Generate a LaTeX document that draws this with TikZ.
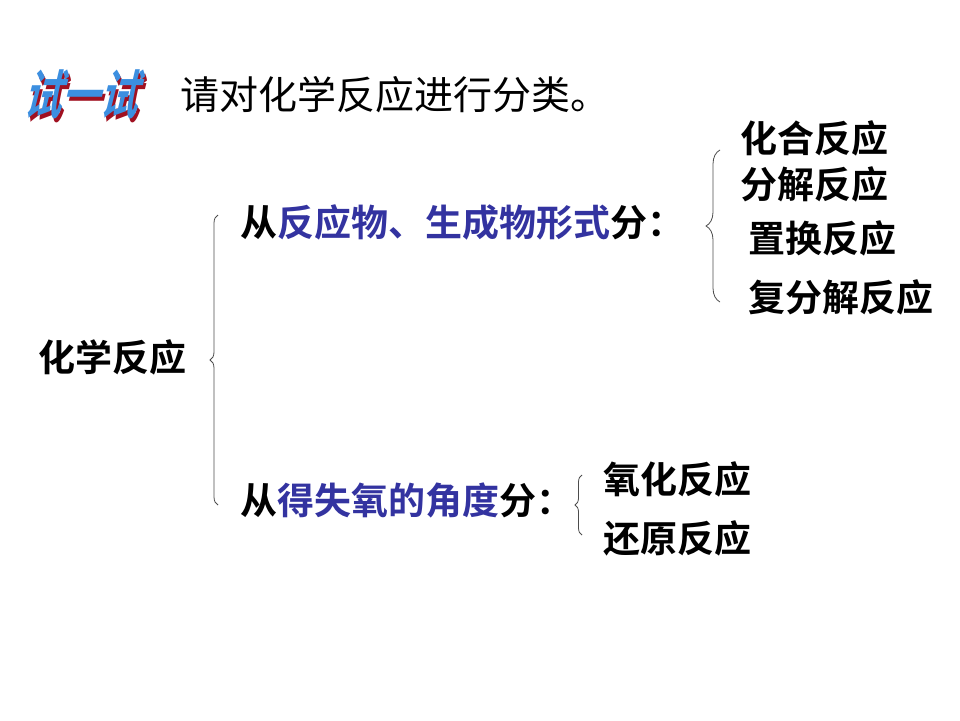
\documentclass[tikz,border=0pt]{standalone}
\usepackage{fontspec}
\newfontfamily\cjk{Noto Sans CJK SC}
\newfontfamily\cjkb{Noto Sans CJK SC Bold}
\usetikzlibrary{decorations.pathreplacing}
\definecolor{cblue}{HTML}{3333A0}
\definecolor{tblue}{HTML}{3C8FE0}
\definecolor{tred}{HTML}{A01020}
\tikzset{x=1pt,y=-1pt,
 bt/.style={anchor=west,inner sep=0pt,font=\cjkb\fontsize{37}{37}\selectfont},
 br/.style={draw=black!70,line width=0.8pt,decorate,decoration={brace,amplitude=#1}}}
\begin{document}
\begin{tikzpicture}
\useasboundingbox (0,0) rectangle (960,720);
\node[anchor=west,inner sep=0pt,font=\cjkb\fontsize{38}{38}\selectfont,xslant=0.25,yscale=1.4] (t) at (28,96) {\rlap{\hspace{3pt}\raisebox{-3pt}{\textcolor{tred}{试一试}}}\textcolor{tblue}{试一试}};
\node[anchor=west,inner sep=0pt,font=\cjk\fontsize{39}{39}\selectfont] (title) at (180,95) {请对化学反应进行分类。};
\node[bt] (root) at (38,357) {化学反应};
\node[bt] (a) at (240,222) {从\textcolor{cblue}{反应物、生成物形式}分：};
\node[bt] (b) at (240,500) {从\textcolor{cblue}{得失氧的角度}分：};
\node[bt] (a1) at (740,138) {化合反应};
\node[bt] (a2) at (740,184) {分解反应};
\node[bt] (a3) at (748,238) {置换反应};
\node[bt] (a4) at (748,297) {复分解反应};
\node[bt] (b1) at (603,479) {氧化反应};
\node[bt] (b2) at (603,538) {还原反应};
\draw[br=8pt] (218,505) -- (218,215);
\draw[br=14pt] (720,302) -- (720,150);
\draw[br=7pt] (582,535) -- (582,475);
\end{tikzpicture}
\end{document}
